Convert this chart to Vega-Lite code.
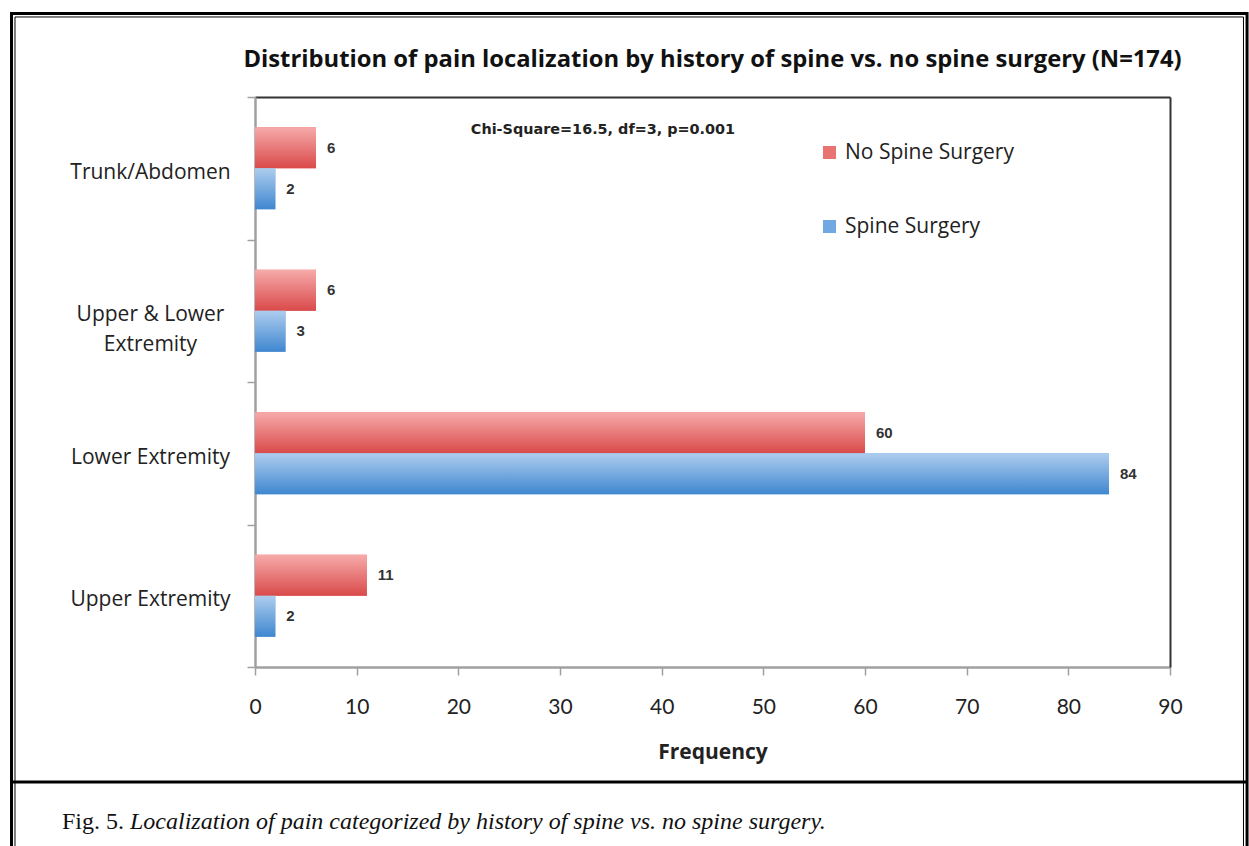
{
  "$schema": "https://vega.github.io/schema/vega-lite/v6.json",
  "width": 915,
  "height": 570,
  "autosize": {"type": "none"},
  "padding": {"left": 255, "top": 97, "right": 79, "bottom": 179},
  "background": "white",
  "title": {
    "text": "Distribution of pain localization by history of spine vs. no spine surgery (N=174)",
    "font": "Open Sans",
    "fontSize": 23.8,
    "fontWeight": "bold",
    "color": "#111",
    "anchor": "middle",
    "frame": "group",
    "offset": -60
  },
  "config": {"view": {"stroke": null}, "font": "Open Sans"},
  "resolve": {"scale": {"x": "independent", "y": "independent"}},
  "layer": [
    {
      "data": {"values": [
        {"location": "Trunk/Abdomen", "group": "No Spine Surgery", "frequency": 6},
        {"location": "Trunk/Abdomen", "group": "Spine Surgery", "frequency": 2},
        {"location": "Upper & Lower Extremity", "group": "No Spine Surgery", "frequency": 6},
        {"location": "Upper & Lower Extremity", "group": "Spine Surgery", "frequency": 3},
        {"location": "Lower Extremity", "group": "No Spine Surgery", "frequency": 60},
        {"location": "Lower Extremity", "group": "Spine Surgery", "frequency": 84},
        {"location": "Upper Extremity", "group": "No Spine Surgery", "frequency": 11},
        {"location": "Upper Extremity", "group": "Spine Surgery", "frequency": 2}
      ]},
      "encoding": {
        "y": {
          "field": "location",
          "type": "nominal",
          "sort": ["Trunk/Abdomen", "Upper & Lower Extremity", "Lower Extremity", "Upper Extremity"],
          "scale": {"paddingInner": 0, "paddingOuter": 0},
          "axis": {
            "title": null,
            "domainColor": "#a0a0a0",
            "domainWidth": 2.5,
            "tickColor": "#a0a0a0",
            "tickWidth": 1.5,
            "tickSize": 8,
            "tickBand": "extent",
            "labelFont": "Open Sans",
            "labelFontSize": 21,
            "labelColor": "#222",
            "labelAlign": "center",
            "labelPadding": 97,
            "labelOffset": 4,
            "labelLineHeight": 30,
            "labelLimit": 0,
            "labelExpr": "datum.value == 'Upper & Lower Extremity' ? ['Upper & Lower', 'Extremity'] : datum.value"
          }
        },
        "yOffset": {
          "field": "group",
          "type": "nominal",
          "sort": ["No Spine Surgery", "Spine Surgery"],
          "scale": {"paddingInner": 0, "paddingOuter": 0.7378}
        },
        "x": {
          "field": "frequency",
          "type": "quantitative",
          "scale": {"domain": [0, 90], "nice": false},
          "axis": {
            "title": "Frequency",
            "values": [0, 10, 20, 30, 40, 50, 60, 70, 80, 90],
            "grid": false,
            "domainColor": "#a0a0a0",
            "domainWidth": 2.5,
            "tickColor": "#a0a0a0",
            "tickWidth": 1.5,
            "tickSize": 8,
            "labelFont": "Lato",
            "labelFontSize": 21,
            "labelColor": "#222",
            "labelPadding": 21,
            "labelFlush": false,
            "titleFont": "Open Sans",
            "titleFontSize": 21,
            "titleFontWeight": "bold",
            "titleColor": "#222",
            "titlePadding": 24
          }
        }
      },
      "layer": [
        {
          "mark": {"type": "bar"},
          "encoding": {
            "color": {
              "field": "group",
              "type": "nominal",
              "scale": {"domain": ["No Spine Surgery", "Spine Surgery"], "range": ["#e97272", "#72a8e2"]},
              "legend": {
                "title": null,
                "orient": "none",
                "legendX": 564,
                "legendY": 45,
                "symbolType": "square",
                "symbolSize": 169,
                "symbolStrokeWidth": 0,
                "labelFont": "Open Sans",
                "labelFontSize": 21,
                "labelColor": "#222",
                "labelLimit": 0,
                "rowPadding": 52,
                "labelOffset": 5,
                "padding": 0
              }
            }
          }
        },
        {
          "transform": [{"filter": "datum.group === 'No Spine Surgery'"}],
          "mark": {
            "type": "bar",
            "color": {
              "gradient": "linear", "x1": 0, "y1": 0, "x2": 0, "y2": 1,
              "stops": [{"offset": 0, "color": "#f6aaaa"}, {"offset": 1, "color": "#da4a4a"}]
            }
          }
        },
        {
          "transform": [{"filter": "datum.group === 'Spine Surgery'"}],
          "mark": {
            "type": "bar",
            "color": {
              "gradient": "linear", "x1": 0, "y1": 0, "x2": 0, "y2": 1,
              "stops": [{"offset": 0, "color": "#aecdee"}, {"offset": 1, "color": "#3f87d0"}]
            }
          }
        },
        {
          "mark": {"type": "text", "align": "left", "dx": 11, "font": "Liberation Sans", "fontWeight": "bold", "fontSize": 15, "color": "#333"},
          "encoding": {"text": {"field": "frequency", "type": "quantitative"}}
        }
      ]
    },
    {
      "data": {"values": [
        {"figure": "Fig. 5.", "caption": "Localization of pain categorized by history of spine vs. no spine surgery.", "note": "Chi-Square=16.5, df=3, p=0.001"}
      ]},
      "layer": [
        {
          "mark": {"type": "rect", "filled": false, "color": "#000", "strokeWidth": 3},
          "encoding": {
            "x": {"datum": -0.2661, "type": "quantitative", "scale": {"domain": [0, 1], "nice": false, "zero": false}, "axis": {"orient": "top", "domainColor": "#333", "domainWidth": 2, "ticks": false, "labels": false, "grid": false, "title": null}},
            "x2": {"datum": 1.0842},
            "y": {"datum": 1.1465, "type": "quantitative", "scale": {"domain": [0, 1], "nice": false, "zero": false}, "axis": {"orient": "right", "domainColor": "#333", "domainWidth": 2, "ticks": false, "labels": false, "grid": false, "title": null}},
            "y2": {"datum": -0.356}
          }
        },
        {
          "mark": {"type": "rect", "filled": false, "color": "#000", "strokeWidth": 1},
          "encoding": {
            "x": {"datum": -0.2623, "type": "quantitative", "scale": {"domain": [0, 1], "nice": false, "zero": false}, "axis": {"orient": "top", "domainColor": "#333", "domainWidth": 2, "ticks": false, "labels": false, "grid": false, "title": null}},
            "x2": {"datum": 1.0803},
            "y": {"datum": 1.1404, "type": "quantitative", "scale": {"domain": [0, 1], "nice": false, "zero": false}, "axis": {"orient": "right", "domainColor": "#333", "domainWidth": 2, "ticks": false, "labels": false, "grid": false, "title": null}},
            "y2": {"datum": -0.356}
          }
        },
        {
          "mark": {"type": "rule", "color": "#000", "strokeWidth": 3},
          "encoding": {
            "x": {"datum": -0.2661, "type": "quantitative", "scale": {"domain": [0, 1], "nice": false, "zero": false}, "axis": {"orient": "top", "domainColor": "#333", "domainWidth": 2, "ticks": false, "labels": false, "grid": false, "title": null}},
            "x2": {"datum": 1.0842},
            "y": {"datum": -0.2018, "type": "quantitative", "scale": {"domain": [0, 1], "nice": false, "zero": false}, "axis": {"orient": "right", "domainColor": "#333", "domainWidth": 2, "ticks": false, "labels": false, "grid": false, "title": null}}
          }
        },
        {
          "mark": {"type": "text", "align": "left", "baseline": "middle", "font": "Liberation Serif", "fontSize": 24, "color": "#111"},
          "encoding": {
            "text": {"field": "figure"},
            "x": {"datum": -0.2109, "type": "quantitative", "scale": {"domain": [0, 1], "nice": false, "zero": false}, "axis": {"orient": "top", "domainColor": "#333", "domainWidth": 2, "ticks": false, "labels": false, "grid": false, "title": null}},
            "y": {"datum": -0.2719, "type": "quantitative", "scale": {"domain": [0, 1], "nice": false, "zero": false}, "axis": {"orient": "right", "domainColor": "#333", "domainWidth": 2, "ticks": false, "labels": false, "grid": false, "title": null}}
          }
        },
        {
          "mark": {"type": "text", "align": "left", "baseline": "middle", "font": "Liberation Serif", "fontSize": 24, "fontStyle": "italic", "color": "#111"},
          "encoding": {
            "text": {"field": "caption"},
            "x": {"datum": -0.1366, "type": "quantitative", "scale": {"domain": [0, 1], "nice": false, "zero": false}, "axis": {"orient": "top", "domainColor": "#333", "domainWidth": 2, "ticks": false, "labels": false, "grid": false, "title": null}},
            "y": {"datum": -0.2719, "type": "quantitative", "scale": {"domain": [0, 1], "nice": false, "zero": false}, "axis": {"orient": "right", "domainColor": "#333", "domainWidth": 2, "ticks": false, "labels": false, "grid": false, "title": null}}
          }
        },
        {
          "mark": {"type": "text", "align": "center", "baseline": "middle", "font": "DejaVu Sans", "fontWeight": "bold", "fontSize": 14.4, "color": "#222"},
          "encoding": {
            "text": {"field": "note"},
            "x": {"datum": 0.3803, "type": "quantitative", "scale": {"domain": [0, 1], "nice": false, "zero": false}, "axis": {"orient": "top", "domainColor": "#333", "domainWidth": 2, "ticks": false, "labels": false, "grid": false, "title": null}},
            "y": {"datum": 0.942, "type": "quantitative", "scale": {"domain": [0, 1], "nice": false, "zero": false}, "axis": {"orient": "right", "domainColor": "#333", "domainWidth": 2, "ticks": false, "labels": false, "grid": false, "title": null}}
          }
        }
      ]
    }
  ]
}
